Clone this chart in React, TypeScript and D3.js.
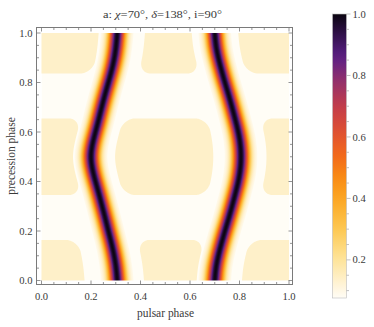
import { useMemo } from 'react';
import * as d3 from 'd3';

// precession phase knots and beam centre (pulsar phase)
const precession = [0, 0.05, 0.1, 0.15, 0.2, 0.25, 0.3, 0.35, 0.4, 0.45, 0.5, 0.55, 0.6, 0.65, 0.7, 0.75, 0.8, 0.85, 0.9, 0.95, 1];
const beamOneCentre = [0.306, 0.302, 0.294, 0.283, 0.27, 0.258, 0.245, 0.232, 0.218, 0.205, 0.198, 0.205, 0.218, 0.231, 0.243, 0.256, 0.27, 0.284, 0.295, 0.302, 0.306];
const beamTwoCentre = [0.7, 0.704, 0.714, 0.727, 0.741, 0.756, 0.77, 0.783, 0.7955, 0.804, 0.807, 0.804, 0.7955, 0.783, 0.77, 0.756, 0.741, 0.727, 0.714, 0.704, 0.7];

// white (unclipped) horizontal bands
const bandCentres = [0.2545, 0.7455];
const bandHalfWidths = [0.0905, 0.0905];

// distance from beam centre to clipped region, per row [bottom, middle, top]
const beamOneGapLeft = [0.132, 0.073, 0.075];
const beamOneGapRight = [0.108, 0.097, 0.112];
const beamTwoGapLeft = [0.073, 0.112, 0.093];
const beamTwoGapRight = [0.11, 0.103, 0.095];

const majorTicks = [0, 0.2, 0.4, 0.6, 0.8, 1.0];
const barTicks = [0.2, 0.4, 0.6, 0.8, 1.0];

// SunsetColors style scale
const colourValues = [0.076, 0.12, 0.2, 0.3, 0.4, 0.47, 0.54, 0.62, 0.7, 0.78, 0.86, 0.94, 1.0];
const colourHex = ['#fffdf6', '#fff3d6', '#fee49a', '#fdc851', '#fca622', '#f98a14', '#f2691b', '#de4f33', '#c23c4a', '#94306b', '#5b1f86', '#2e1046', '#0b0510'];
const creamColour = '#fef0c9';

const W = 374;
const H = 327;
const sigma = 0.023;
const halfSpan = 0.066;
const floorValue = 0.076;
const cornerR = 0.05;

const App = () => {
    const x = d3.scaleLinear().domain([0, 1]).range([41.5, 289]);
    const y = d3.scaleLinear().domain([0, 1]).range([280.5, 33]);
    const colour = d3.scaleLinear<string>().domain(colourValues).range(colourHex).interpolate(d3.interpolateRgb);
    const bar = d3.scaleLinear().domain([floorValue, 1]).range([298, 14]);

    // smooth track through the read-off centres
    const beamOne = d3.interpolateBasis(beamOneCentre);
    const beamTwo = d3.interpolateBasis(beamTwoCentre);

    const creamPath = useMemo(() => {
        const n = 300;
        const lo = -0.02, span = 1.04;
        const toData = (c: number) => lo + (c * span) / n;
        const row = (v: number) => (v < 0.25 ? 0 : v < 0.75 ? 1 : 2);
        const values = new Array(n * n);
        for (let j = 0; j < n; j++) {
            const py = toData(j + 0.5);
            const r = row(py);
            const t = Math.max(0, Math.min(1, py));
            const c1 = beamOne(t), c2 = beamTwo(t);
            const b = d3.min(bandCentres, (bc, k) => Math.abs(py - bc) - bandHalfWidths[k]) as number;
            for (let i = 0; i < n; i++) {
                const px = toData(i + 0.5);
                const a1 = px < c1 ? c1 - px - beamOneGapLeft[r] : px - c1 - beamOneGapRight[r];
                const a2 = px < c2 ? c2 - px - beamTwoGapLeft[r] : px - c2 - beamTwoGapRight[r];
                const a = Math.min(a1, a2);
                values[j * n + i] = cornerR - Math.hypot(Math.max(cornerR - a, 0), Math.max(cornerR - b, 0));
            }
        }
        const contours = d3.contours().size([n, n]).thresholds([0])(values);
        const proj = d3.geoTransform({
            point(px: number, py: number) {
                (this as any).stream.point(x(toData(px)), y(toData(py)));
            },
        });
        return d3.geoPath(proj)(contours[0]) || '';
    }, []);

    const rows = d3.range(Math.floor(y(1)), Math.ceil(y(0)));
    const profileStops = d3.range(0, 41).map((k) => {
        const t = k / 40;
        const dx = (t * 2 - 1) * halfSpan;
        const v = floorValue + (1 - floorValue) * Math.exp(-(dx * dx) / (2 * sigma * sigma));
        return { t, c: colour(v) };
    });
    const barStops = d3.range(0, 31).map((k) => {
        const v = 1 - (k / 30) * (1 - floorValue);
        return { t: k / 30, c: colour(v) };
    });

    const minor = x.ticks(20);
    const barMinor = bar.ticks(20).filter((v) => v >= floorValue);
    const fmt = d3.format('.1f');
    const frame = { l: 36.5, r: 292.5, t: 27.5, b: 284.5 };
    const axisColour = '#7a7a7a';
    const textColour = '#3a3a3a';
    const font = 'Liberation Serif, DejaVu Serif, serif';

    return (
        <svg width={W} height={H} style={{ position: 'absolute', left: 0, top: 0 }} fontFamily={font}>
            <rect width={W} height={H} fill="#fff" />
            <defs>
                <clipPath id="plotClip">
                    <rect x={x(0)} y={y(1)} width={x(1) - x(0)} height={y(0) - y(1)} />
                </clipPath>
                <linearGradient id="beamProfile" x1="0" x2="1" y1="0" y2="0">
                    {profileStops.map((s) => (
                        <stop key={s.t} offset={s.t} stopColor={s.c} />
                    ))}
                </linearGradient>
                <linearGradient id="barFill" x1="0" x2="0" y1="0" y2="1">
                    {barStops.map((s) => (
                        <stop key={s.t} offset={s.t} stopColor={s.c} />
                    ))}
                </linearGradient>
            </defs>

            <g clipPath="url(#plotClip)">
                <rect x={x(0)} y={y(1)} width={x(1) - x(0)} height={y(0) - y(1)} fill={colourHex[0]} />
                <path d={creamPath} fill={creamColour} />
                {[beamOne, beamTwo].map((beam, bi) =>
                    rows.map((r) => {
                        const t = Math.max(0, Math.min(1, y.invert(r + 0.5)));
                        const c = beam(t);
                        return (
                            <rect
                                key={`${bi}-${r}`}
                                x={x(c - halfSpan)}
                                y={r}
                                width={x(2 * halfSpan) - x(0)}
                                height={1}
                                fill="url(#beamProfile)"
                            />
                        );
                    })
                )}
            </g>

            <rect x={frame.l} y={frame.t} width={frame.r - frame.l} height={frame.b - frame.t} fill="none" stroke={axisColour} strokeWidth={1} />
            <g stroke={axisColour} strokeWidth={0.8}>
                {minor.map((v) => {
                    const len = majorTicks.some((m) => Math.abs(m - v) < 1e-9) ? 4 : 2.5;
                    return (
                        <g key={v}>
                            <line x1={x(v)} x2={x(v)} y1={frame.b} y2={frame.b - len} />
                            <line x1={x(v)} x2={x(v)} y1={frame.t} y2={frame.t + len} />
                            <line y1={y(v)} y2={y(v)} x1={frame.l} x2={frame.l + len} />
                            <line y1={y(v)} y2={y(v)} x1={frame.r} x2={frame.r - len} />
                        </g>
                    );
                })}
            </g>
            <g fill={textColour} fontSize={10.6}>
                {majorTicks.map((v) => (
                    <text key={`x${v}`} x={x(v)} y={299.5} textAnchor="middle">
                        {fmt(v)}
                    </text>
                ))}
                {majorTicks.map((v) => (
                    <text key={`y${v}`} x={32.5} y={y(v)} dy="0.34em" textAnchor="end">
                        {fmt(v)}
                    </text>
                ))}
            </g>
            <text x={165.5} y={316.5} textAnchor="middle" fontSize={11.5} fill={textColour} textLength={57} lengthAdjust="spacingAndGlyphs">
                pulsar phase
            </text>
            <text transform={`translate(15,156) rotate(-90)`} textAnchor="middle" fontSize={11.5} fill={textColour}>
                precession phase
            </text>
            <text x={162.5} y={17.5} textAnchor="middle" fontSize={11} fill={textColour} textLength={119} lengthAdjust="spacingAndGlyphs">
                a: <tspan fontStyle="italic">χ</tspan>=70°, <tspan fontStyle="italic">δ</tspan>=138°, i=90°
            </text>

            <rect x={332.5} y={bar(1)} width={14} height={bar(floorValue) - bar(1)} fill="url(#barFill)" stroke="#bdbdbd" strokeWidth={0.6} />
            <g stroke="#a8a8a8" strokeWidth={0.7}>
                {barMinor.map((v) => (
                    <line key={v} x1={346.5} x2={barTicks.some((m) => Math.abs(m - v) < 1e-9) ? 350.5 : 349} y1={bar(v)} y2={bar(v)} />
                ))}
            </g>
            <g fill={textColour} fontSize={10.6}>
                {barTicks.map((v) => (
                    <text key={v} x={352.5} y={bar(v)} dy="0.34em">
                        {fmt(v)}
                    </text>
                ))}
            </g>
        </svg>
    );
};

export default App;
